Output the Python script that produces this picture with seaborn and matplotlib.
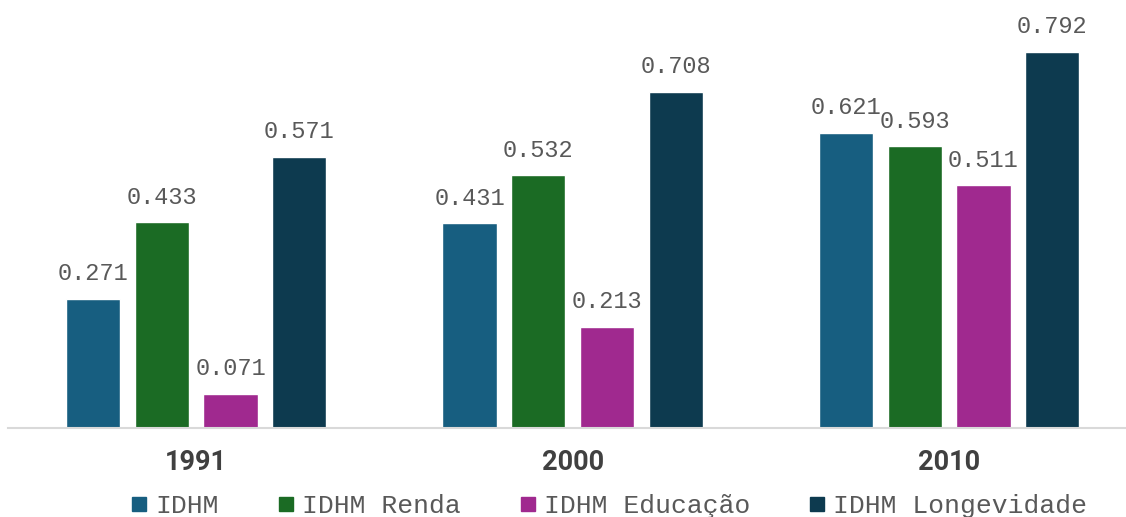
import pandas as pd
import numpy as np
import matplotlib.pyplot as plt
import seaborn as sns
from matplotlib.lines import Line2D

anos = ["1991", "2000", "2010"]
indices = ["IDHM", "IDHM Renda", "IDHM Educação", "IDHM Longevidade"]
idhm = [0.271, 0.431, 0.621]
renda = [0.433, 0.532, 0.593]
educacao = [0.071, 0.213, 0.511]
longevidade = [0.571, 0.708, 0.792]

cores = ["#175E80", "#1B6B24", "#A0298F", "#0D3A4F"]

df = pd.DataFrame({
    "ano": anos * 4,
    "indice": [i for i in indices for _ in anos],
    "valor": idhm + renda + educacao + longevidade
})

sns.set_style("white")

fig = plt.figure(figsize=(11.26, 5.17), dpi=100)
ax = fig.add_axes([8 / 1126, 89 / 517, 1 - 8 / 1126, 428 / 517])

sns.barplot(
    data=df,
    x="ano",
    y="valor",
    hue="indice",
    hue_order=indices,
    palette=cores,
    width=0.73,
    gap=0.21,
    saturation=1,
    ax=ax,
    legend=False
)

for cont in ax.containers:
    ax.bar_label(
        cont,
        labels=[f"{v:.3f}" for v in cont.datavalues],
        padding=10,
        fontsize=17,
        family="Liberation Mono",
        color="#595959"
    )

ax.set_ylim(0, 0.9016)
ax.set_xlim(-0.5, 2.47)
ax.set_xlabel("")
ax.set_ylabel("")
ax.set_yticks([])
sns.despine(ax=ax, left=True)
ax.spines["bottom"].set_color("#d9d9d9")
ax.spines["bottom"].set_linewidth(1.5)
ax.tick_params(axis="x", length=0, pad=15)
ax.set_xticks(range(len(anos)))
ax.set_xticklabels(
    anos,
    fontdict={"family": "Roboto", "weight": "bold", "size": 19.5}
)
for lab in ax.get_xticklabels():
    lab.set_color("#404040")

handles = [
    Line2D([], [], marker="s", linestyle="", markersize=10, color=c)
    for c in cores
]
leg = fig.legend(
    handles,
    indices,
    loc="center",
    bbox_to_anchor=(0.541, 11 / 517),
    ncol=4,
    frameon=False,
    handlelength=0.6,
    handletextpad=0.3,
    columnspacing=2.25,
    prop={"family": "Liberation Mono", "size": 19}
)
for t in leg.get_texts():
    t.set_color("#595959")

fig.savefig("out.png", dpi=100)
